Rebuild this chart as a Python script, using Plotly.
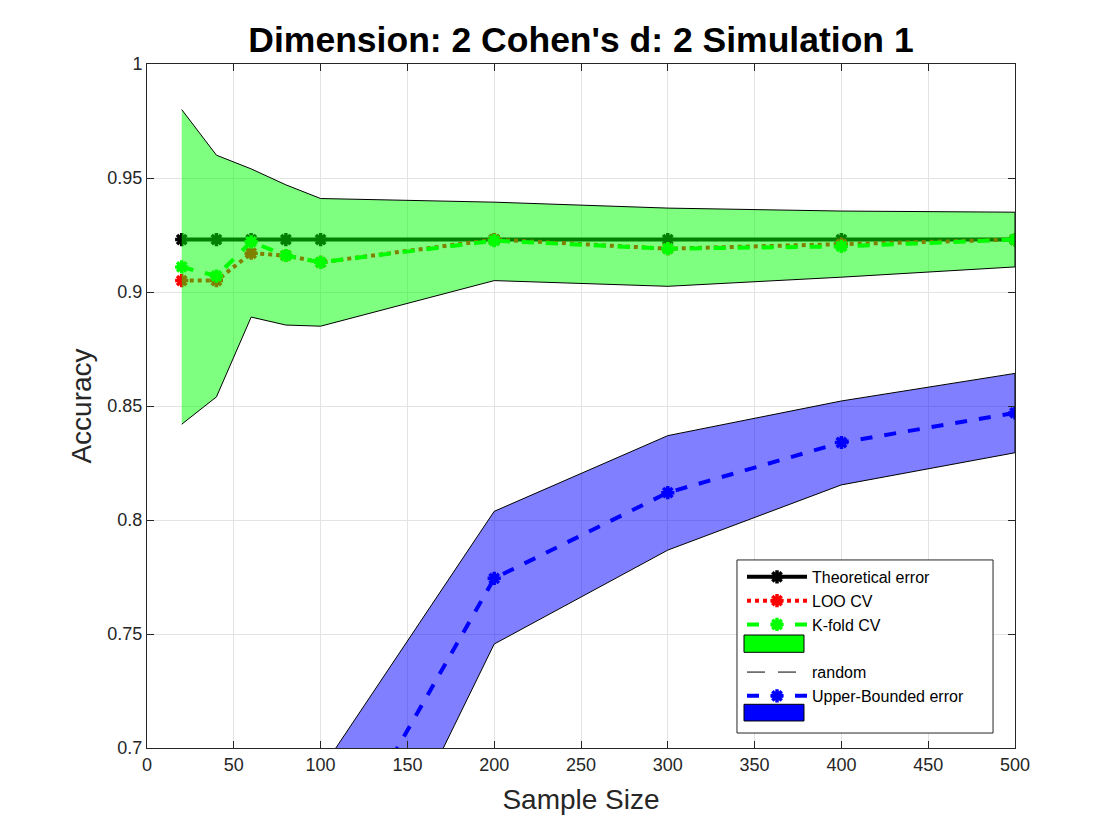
import plotly.graph_objects as go

# sample sizes
sizes = [20, 40, 60, 80, 100, 200, 300, 400, 500]

theoretical = [0.923, 0.923, 0.923, 0.923, 0.923, 0.923, 0.923, 0.923, 0.923]
loo_cv = [0.905, 0.905, 0.917, 0.916, 0.913, 0.923, 0.919, 0.921, 0.923]
kfold_cv = [0.911, 0.907, 0.922, 0.916, 0.913, 0.9225, 0.919, 0.920, 0.923]
kfold_upper = [0.980, 0.960, 0.954, 0.947, 0.941, 0.9394, 0.9368, 0.9355, 0.935]
kfold_lower = [0.842, 0.854, 0.889, 0.8855, 0.885, 0.905, 0.9025, 0.9065, 0.911]

random_acc = [0.5, 0.5, 0.5, 0.5, 0.5, 0.5, 0.5, 0.5, 0.5]

ub_sizes = [100, 200, 300, 400, 500]
ub_error = [0.641, 0.7744, 0.812, 0.834, 0.847]
ub_upper = [0.690, 0.8038, 0.837, 0.8522, 0.8643]
ub_lower = [0.590, 0.7456, 0.7868, 0.8154, 0.8295]

FONT = "Liberation Sans, Arial, sans-serif"
INK = "#262626"


def asterisk(color):
    return dict(symbol="asterisk-open", size=11, color=color,
                line=dict(color=color, width=3.5))


def blank_entry():
    # empty legend row, the coloured patch is drawn as a shape on top
    return go.Scatter(x=[None], y=[None], mode="lines", name=" ",
                      line=dict(color="rgba(0,0,0,0)", width=0), hoverinfo="skip")


fig = go.Figure()

fig.add_trace(go.Scatter(
    x=sizes, y=theoretical, mode="lines+markers", name="Theoretical error",
    line=dict(color="black", width=4), marker=asterisk("black"),
))
fig.add_trace(go.Scatter(
    x=sizes, y=loo_cv, mode="lines+markers", name="LOO CV",
    line=dict(color="red", width=4, dash="dot"), marker=asterisk("red"),
))
fig.add_trace(go.Scatter(
    x=sizes, y=kfold_cv, mode="lines+markers", name="K-fold CV",
    line=dict(color="#00ff00", width=4, dash="dash"), marker=asterisk("#00ff00"),
))
# band drawn after the lines so it tints them, like the original
fig.add_trace(go.Scatter(
    x=sizes + sizes[::-1], y=kfold_upper + kfold_lower[::-1],
    fill="toself", fillcolor="rgba(0,255,0,0.5)", mode="lines",
    line=dict(color="black", width=1), showlegend=False, hoverinfo="skip",
))
fig.add_trace(blank_entry())
fig.add_trace(go.Scatter(
    x=sizes, y=random_acc, mode="lines", name="random",
    line=dict(color="black", width=1, dash="18px,13px"),
))
fig.add_trace(go.Scatter(
    x=ub_sizes, y=ub_error, mode="lines+markers", name="Upper-Bounded error",
    line=dict(color="blue", width=4, dash="dash"), marker=asterisk("blue"),
))
fig.add_trace(go.Scatter(
    x=ub_sizes + ub_sizes[::-1], y=ub_upper + ub_lower[::-1],
    fill="toself", fillcolor="rgba(0,0,255,0.5)", mode="lines",
    line=dict(color="black", width=1), showlegend=False, hoverinfo="skip",
))
fig.add_trace(blank_entry())

# legend box + colour patches (paper coords)
fig.add_shape(type="rect", xref="paper", yref="paper", layer="above",
              x0=0.6797, x1=0.9747, y0=0.0219, y1=0.2749,
              fillcolor="white", line=dict(color=INK, width=1))
fig.add_shape(type="rect", xref="paper", yref="paper", layer="above",
              x0=0.6878, x1=0.7569, y0=0.1399, y1=0.1652,
              fillcolor="#00ff00", line=dict(color="black", width=1))
fig.add_shape(type="rect", xref="paper", yref="paper", layer="above",
              x0=0.6878, x1=0.7569, y0=0.0395, y1=0.0639,
              fillcolor="#0000ff", line=dict(color="black", width=1))

axis_common = dict(
    showgrid=True, gridcolor="#e3e3e3", gridwidth=1,
    showline=True, linecolor=INK, linewidth=1, mirror="allticks",
    ticks="inside", ticklen=7, tickcolor=INK,
    tickfont=dict(family=FONT, size=18, color=INK),
    zeroline=False,
)

fig.update_layout(
    width=1120, height=840,
    paper_bgcolor="white", plot_bgcolor="white",
    margin=dict(l=139, r=113, t=56, b=100),
    title=dict(
        text="<b>Dimension: 2 Cohen's d: 2 Simulation 1</b>",
        x=0.5, xref="paper", xanchor="center", y=0.962, yanchor="middle",
        font=dict(family=FONT, size=35.5, color="black"),
    ),
    xaxis=dict(
        range=[0, 500], dtick=50,
        title=dict(text="Sample Size", font=dict(family=FONT, size=28, color=INK), standoff=15),
        **axis_common,
    ),
    yaxis=dict(
        range=[0.7, 1.0], dtick=0.05,
        title=dict(text="Accuracy", font=dict(family=FONT, size=28, color=INK), standoff=7),
        **axis_common,
    ),
    showlegend=True,
    legend=dict(
        x=0.6855, y=0.2749, xanchor="left", yanchor="top",
        bgcolor="rgba(0,0,0,0)", borderwidth=0,
        font=dict(family=FONT, size=16, color="black"),
        itemwidth=60, tracegroupgap=0,
    ),
)

fig.write_html("out.html")
